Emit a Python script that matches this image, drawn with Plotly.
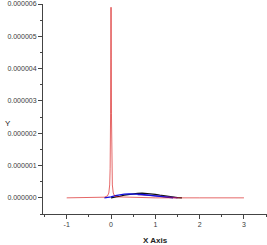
import plotly.graph_objects as go

# Data (y values in units of 1e-6)
red_x = [-1.0, -0.3, -0.15, -0.08, -0.05, -0.03, -0.02, -0.01, -0.005, 0.0, 0.005, 0.01, 0.02, 0.03, 0.05, 0.08, 0.15, 0.25, 0.35, 0.5, 1.0, 2.0, 3.0]
red_y = [0.0, 0.005, 0.02, 0.06, 0.15, 0.4, 0.9, 2.6, 4.3, 5.9, 4.3, 2.6, 0.9, 0.4, 0.15, 0.06, 0.03, 0.025, 0.015, 0.005, 0.0, 0.0, 0.0]

blue_x = [-0.15, -0.05, 0.0, 0.1, 0.2, 0.3, 0.4, 0.5, 0.6, 0.7, 0.8, 0.9, 1.0, 1.1, 1.2, 1.3, 1.4]
blue_y = [0.0, 0.01, 0.03, 0.07, 0.1, 0.115, 0.12, 0.12, 0.115, 0.105, 0.09, 0.07, 0.05, 0.035, 0.02, 0.01, 0.0]

purple_x = [0.6, 0.8, 0.9, 1.0, 1.1, 1.2, 1.3, 1.4, 1.5]
purple_y = [0.1, 0.09, 0.08, 0.07, 0.055, 0.04, 0.025, 0.01, 0.0]

black_x = [0.0, 0.1, 0.2, 0.3, 0.4, 0.5, 0.6, 0.7, 0.8, 0.9, 1.0, 1.1, 1.2, 1.3, 1.4, 1.5, 1.6]
black_y = [0.0, 0.02, 0.05, 0.085, 0.11, 0.13, 0.14, 0.145, 0.14, 0.13, 0.11, 0.085, 0.06, 0.04, 0.02, 0.008, 0.0]

y_ticks = [0, 1, 2, 3, 4, 5, 6]
x_ticks = [-1, 0, 1, 2, 3]

scale = 1e-6
fig = go.Figure()
fig.add_trace(go.Scatter(x=black_x, y=[v * scale for v in black_y], mode="lines",
                         line=dict(color="#111111", width=1.2)))
fig.add_trace(go.Scatter(x=purple_x, y=[v * scale for v in purple_y], mode="lines",
                         line=dict(color="#6622aa", width=1.2)))
fig.add_trace(go.Scatter(x=blue_x, y=[v * scale for v in blue_y], mode="lines",
                         line=dict(color="#1010e0", width=1.2)))
fig.add_trace(go.Scatter(x=red_x, y=[v * scale for v in red_y], mode="lines",
                         line=dict(color="#d40000", width=0.6)))

axis_font = dict(family="Liberation Sans, Arial", size=7, color="#3a3a3a")
fig.update_layout(
    template="none",
    width=267, height=245,
    margin=dict(l=43, r=0, t=4, b=31),
    paper_bgcolor="white", plot_bgcolor="white",
    showlegend=False,
    xaxis=dict(range=[-1.535, 3.52], tickvals=x_ticks, ticktext=[str(v) for v in x_ticks],
               automargin=False,
               showgrid=False, zeroline=False, showline=True, linecolor="#444444", linewidth=1,
               ticks="outside", ticklen=4, tickcolor="#444444", tickfont=axis_font,
               minor=dict(ticks="outside", ticklen=2, dtick=0.5, tick0=0, tickcolor="#444444", showgrid=False),
               title=dict(text="")),
    yaxis=dict(range=[-0.5e-6, 6.0e-6], tickvals=[v * scale for v in y_ticks],
               ticktext=["%.6f" % (v * scale) for v in y_ticks],
               automargin=False,
               showgrid=False, zeroline=False, showline=True, linecolor="#444444", linewidth=1,
               ticks="outside", ticklen=4, tickcolor="#444444", tickfont=axis_font,
               minor=dict(ticks="outside", ticklen=2, dtick=0.5e-6, tick0=0, tickcolor="#444444", showgrid=False),
               title=dict(text="")),
    annotations=[
        dict(text="Y", xref="paper", yref="paper", x=-0.18, y=0.433, showarrow=False,
             font=dict(family="Liberation Sans, Arial", size=8, color="#222222")),
        dict(text="<b>X Axis</b>", xref="paper", yref="paper", x=0.5, y=-0.125, yanchor="middle",
             showarrow=False, font=dict(family="Liberation Sans, Arial", size=8, color="#222222")),
    ],
)
fig.write_html("out.html", config={"displayModeBar": False},
               post_script="document.body.style.margin='0';document.body.style.padding='0';")
